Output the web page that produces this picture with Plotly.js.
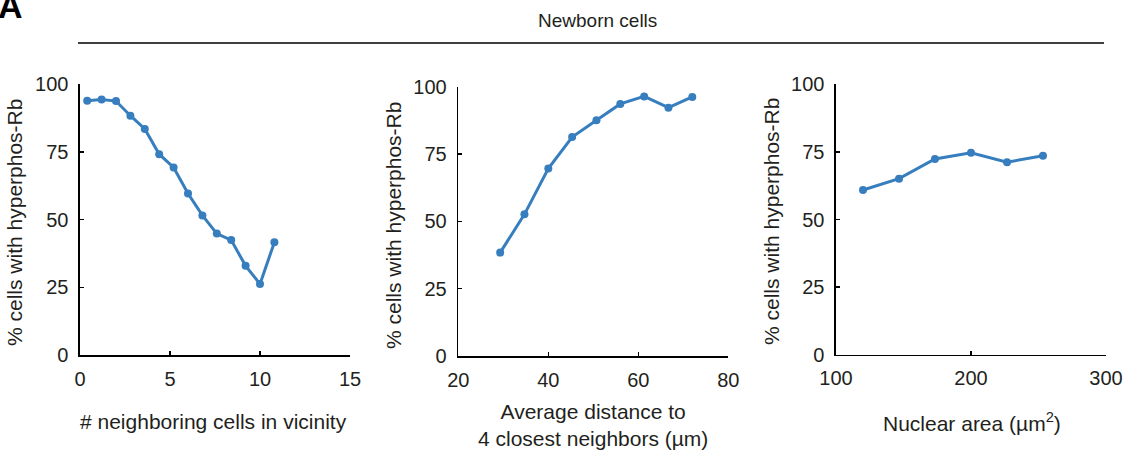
<!DOCTYPE html>
<html>
<head>
<meta charset="utf-8">
<script src="https://cdn.plot.ly/plotly-3.0.1.min.js"></script>
<style>html,body{margin:0;padding:0;background:#fff;}#chart{width:1127px;height:454px;}</style>
</head>
<body>
<div id="chart"></div>
<script>
// Panel 1: # neighboring cells in vicinity
const neighborsX = [0.4, 1.2, 2.0, 2.8, 3.6, 4.4, 5.2, 6.0, 6.8, 7.6, 8.4, 9.2, 10.0, 10.8];
const neighborsY = [93.8, 94.3, 93.7, 88.3, 83.4, 74.1, 69.2, 59.6, 51.5, 44.8, 42.4, 32.9, 26.2, 41.6];
// Panel 2: average distance to 4 closest neighbors (µm)
const distanceX = [29.3, 34.7, 40.0, 45.3, 50.7, 56.0, 61.3, 66.7, 72.0];
const distanceY = [38.4, 52.6, 69.6, 81.3, 87.5, 93.6, 96.4, 92.2, 96.2];
// Panel 3: nuclear area (µm²)
const areaX = [120, 146.7, 173.3, 200, 226.7, 253.3];
const areaY = [60.9, 65.1, 72.4, 74.7, 71.2, 73.6];

const yTicks = [0, 25, 50, 75, 100];
const x1Ticks = [0, 5, 10, 15];
const x2Ticks = [20, 40, 60, 80];
const x3Ticks = [100, 200, 300];

const yTitle = '% cells with hyperphos-Rb';
const x1Title = '# neighboring cells in vicinity';
const x2Title = 'Average distance to<br>4 closest neighbors (µm)';
const x3Title = 'Nuclear area (µm<sup>2</sup>)';
const headerTitle = 'Newborn cells';
const panelLabel = 'A';

const W = 1127, H = 454;
const px = v => v / W;
const py = v => 1 - v / H;

const blue = 'rgb(55,126,190)';
const textColor = '#231f20';
const font = 'Liberation Sans, Arial, sans-serif';

function trace(x, y, xa, ya) {
  return {x: x, y: y, xaxis: xa, yaxis: ya, type: 'scatter', mode: 'lines+markers',
    line: {color: blue, width: 3}, marker: {color: blue, size: 8}, hoverinfo: 'x+y'};
}

function axisBase(extra) {
  return Object.assign({
    showgrid: false, zeroline: false, showline: true, linecolor: '#000', linewidth: 1.6,
    ticks: 'inside', ticklen: 4, tickwidth: 1.5, tickcolor: '#000',
    tickfont: {family: font, size: 20, color: textColor}, fixedrange: true
  }, extra);
}

const panels = [
  {x0: 80, x1: 350, yTop: 84, yBot: 355, range: [0, 15], ticks: x1Ticks},
  {x0: 458.3, x1: 728.3, yTop: 86.7, yBot: 356, range: [20, 80], ticks: x2Ticks},
  {x0: 836, x1: 1106, yTop: 84.3, yBot: 354.7, range: [100, 300], ticks: x3Ticks}
];

const layout = {
  width: W, height: H, margin: {l: 0, r: 0, t: 0, b: 0},
  paper_bgcolor: '#fff', plot_bgcolor: '#fff', showlegend: false,
  font: {family: font, color: textColor},
  annotations: [], shapes: []
};

panels.forEach((p, i) => {
  const n = i === 0 ? '' : String(i + 1);
  layout['xaxis' + n] = axisBase({domain: [px(p.x0), px(p.x1)], range: p.range,
    tickvals: p.ticks, anchor: 'y' + n, ticklabelstandoff: 5});
  layout['yaxis' + n] = axisBase({domain: [py(p.yBot), py(p.yTop)], range: [0, 100],
    tickvals: yTicks, anchor: 'x' + n, ticklabelstandoff: 6});
});

const data = [
  trace(neighborsX, neighborsY, 'x', 'y'),
  trace(distanceX, distanceY, 'x2', 'y2'),
  trace(areaX, areaY, 'x3', 'y3')
];

function ann(text, x, y, opts) {
  layout.annotations.push(Object.assign({text: text, x: px(x), y: py(y), xref: 'paper', yref: 'paper',
    showarrow: false, xanchor: 'center', yanchor: 'middle',
    font: {family: font, size: 21, color: textColor}}, opts || {}));
}

ann(yTitle, 15, 223, {textangle: -90});
ann(yTitle, 393, 226, {textangle: -90});
ann(yTitle, 771, 222, {textangle: -90});
ann(x1Title, 213, 421);
ann(x2Title, 593, 425);
ann(x3Title, 972, 422);
ann(headerTitle, 597, 20, {font: {family: font, size: 19, color: textColor}});
ann(panelLabel, -4, 27, {xanchor: 'left', yanchor: 'bottom',
  font: {family: font, size: 34, color: '#000', weight: 'bold'}});

layout.shapes.push({type: 'line', xref: 'paper', yref: 'paper',
  x0: px(78), x1: px(1104), y0: py(43), y1: py(43), line: {color: '#000', width: 1.6}});

Plotly.newPlot('chart', data, layout, {displayModeBar: false, staticPlot: true});
</script>
</body>
</html>
